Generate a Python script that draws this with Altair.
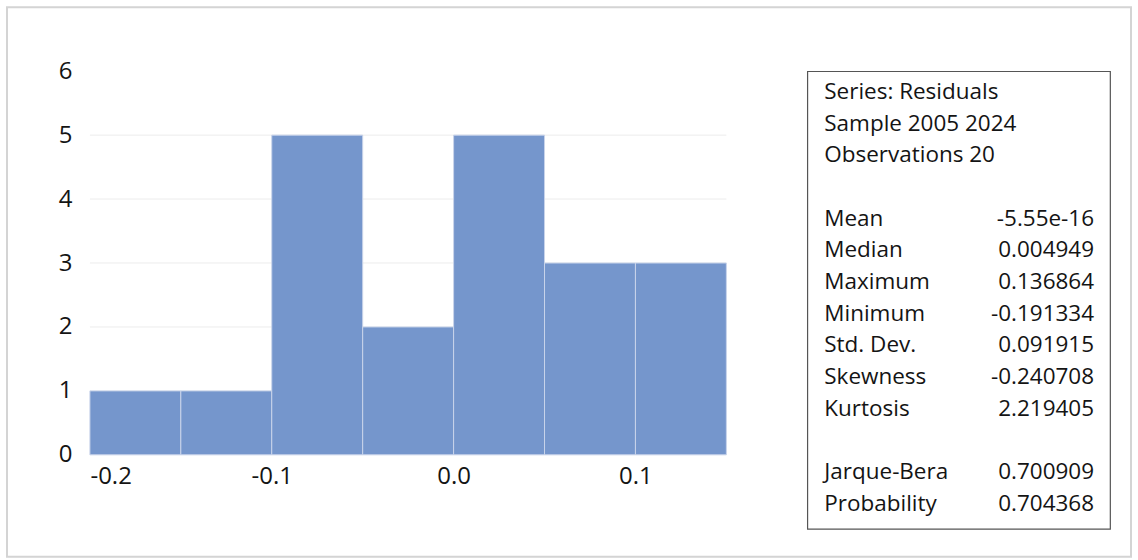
import altair as alt
import pandas as pd

# Histogram of residuals: bin edges and counts
bin_lo = [-0.20, -0.15, -0.10, -0.05, 0.00, 0.05, 0.10]
bin_hi = [-0.15, -0.10, -0.05, 0.00, 0.05, 0.10, 0.15]
counts = [1, 1, 5, 2, 5, 3, 3]

# Gridlines and axis ticks
grid_levels = [1, 2, 3, 4, 5]
x_ticks = [-0.2, -0.1, 0.0, 0.1]
y_ticks = [0, 1, 2, 3, 4, 5, 6]

# Descriptive statistics panel
stat_labels = ["Series: Residuals", "Sample 2005 2024", "Observations 20",
               "Mean", "Median", "Maximum", "Minimum", "Std. Dev.",
               "Skewness", "Kurtosis", "Jarque-Bera", "Probability"]
stat_values = ["", "", "",
               "-5.55e-16", "0.004949", "0.136864", "-0.191334", "0.091915",
               "-0.240708", "2.219405", "0.700909", "0.704368"]
stat_rows = [0, 1, 2, 4, 5, 6, 7, 8, 9, 10, 12, 13]

FONT = "Open Sans"
TEXT_COLOR = "#141414"
BAR_COLOR = "#7596cc"

hist_df = pd.DataFrame({"lo": bin_lo, "hi": bin_hi, "count": counts})
grid_df = pd.DataFrame({"level": grid_levels})
stats_df = pd.DataFrame({"label": stat_labels, "value": stat_values, "row": stat_rows})
stats_df["col_label"] = 0.0
stats_df["col_value"] = 1.0

x_scale = alt.Scale(domain=[-0.2, 0.15], nice=False, zero=False)
y_scale = alt.Scale(domain=[0, 6], nice=False)

bars = alt.Chart(hist_df).mark_rect(
    color=BAR_COLOR, stroke="#c9d4ea", strokeWidth=1
).encode(
    x=alt.X("lo:Q", scale=x_scale, title=None,
            axis=alt.Axis(values=x_ticks, format=".1f", domain=False, ticks=False,
                          grid=False, labelPadding=10,
                          labelExpr="replace(datum.label, '\u2212', '-')")),
    x2="hi:Q",
    y=alt.Y("count:Q", scale=y_scale, title=None,
            axis=alt.Axis(values=y_ticks, format="d", domain=False, ticks=False,
                          grid=False, labelPadding=18)),
)

grid = alt.Chart(grid_df).mark_rule(color="#ececec", strokeWidth=1).encode(
    y=alt.Y("level:Q", scale=y_scale)
)

# Light outer frame around the whole figure
frame = alt.Chart(pd.DataFrame({"k": [0]})).mark_rect(
    fill=None, stroke="#d4d4d4", strokeWidth=2
).encode(
    x=alt.value(-83), x2=alt.value(1042), y=alt.value(-64), y2=alt.value(486)
)

hist = alt.layer(grid, bars, frame).properties(width=637, height=384)

row_scale = alt.Scale(domain=[-0.66, 13.79], reverse=True, nice=False, zero=False)
col_scale = alt.Scale(domain=[-0.063, 1.0593], nice=False, zero=False)

base = alt.Chart(stats_df)
labels = base.mark_text(align="left", baseline="middle", font=FONT, fontSize=22.5,
                        color=TEXT_COLOR).encode(
    x=alt.X("col_label:Q", scale=col_scale, axis=None),
    y=alt.Y("row:Q", scale=row_scale, axis=None),
    text="label:N",
)
values = base.mark_text(align="right", baseline="middle", font=FONT, fontSize=22.5,
                        color=TEXT_COLOR).encode(
    x=alt.X("col_value:Q", scale=col_scale, axis=None),
    y=alt.Y("row:Q", scale=row_scale, axis=None),
    text="value:N",
)

panel = alt.layer(labels, values).properties(
    width=303, height=458,
    view=alt.ViewBackground(stroke="#555555", strokeWidth=1.2),
)

chart = alt.hconcat(hist, panel, spacing=81, bounds="flush").configure(
    padding=6, background="white", font=FONT
).configure_view(strokeWidth=0).configure_axis(
    labelFont=FONT, labelFontSize=24, labelColor=TEXT_COLOR
)

chart.save("out.html", embed_options={"renderer": "svg", "actions": False})
